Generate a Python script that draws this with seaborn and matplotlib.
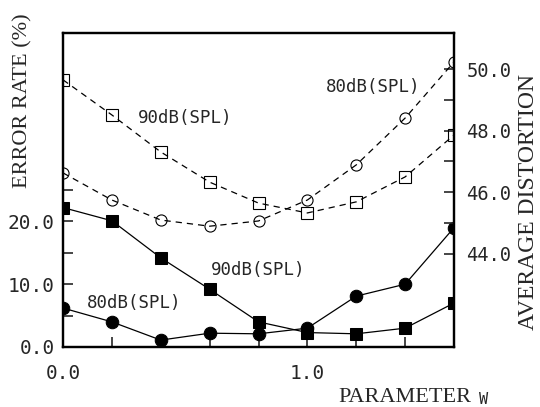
import numpy as np
import pandas as pd
import matplotlib
matplotlib.use("Agg")
import matplotlib.pyplot as plt
import seaborn as sns

# ---- data ----
w = [0.0, 0.2, 0.4, 0.6, 0.8, 1.0, 1.2, 1.4, 1.6]
err_90 = [22.2, 20.1, 14.2, 9.2, 4.0, 2.3, 2.1, 3.0, 7.0]
err_80 = [6.2, 4.0, 1.1, 2.2, 2.1, 3.0, 8.1, 10.0, 19.0]
dist_90 = [49.65, 48.51, 47.31, 46.33, 45.65, 45.33, 45.69, 46.5, 47.86]
dist_80 = [46.63, 45.75, 45.1, 44.9, 45.07, 45.75, 46.89, 48.41, 50.23]

left_major = [0, 10, 20]
left_minor = [5, 15, 25]
right_major = [44, 46, 48, 50]
right_minor = [45, 47, 49]
x_major = [0.0, 1.0]
x_minor = [0.2, 0.4, 0.6, 0.8, 1.2, 1.4, 1.6]

df = pd.DataFrame({"w": w, "err90": err_90, "err80": err_80,
                   "dist90": dist_90, "dist80": dist_80})

sns.set_style("ticks")
mono = "DejaVu Sans Mono"
serif = "Liberation Serif"

fig = plt.figure(figsize=(5.4, 4.07), dpi=100)
ax = fig.add_axes([63/540, 1-347/407, (454-63)/540, (347-33)/407])
ax2 = ax.twinx()

# solid error-rate lines (left axis)
sns.lineplot(data=df, x="w", y="err90", ax=ax, color="black", lw=0.9,
             marker="s", markersize=9, markeredgecolor="black", markerfacecolor="black")
sns.lineplot(data=df, x="w", y="err80", ax=ax, color="black", lw=0.9,
             marker="o", markersize=9, markeredgecolor="black", markerfacecolor="black")

# dashed distortion lines (right axis)
sns.lineplot(data=df, x="w", y="dist90", ax=ax2, color="black", lw=0.9,
             linestyle=(0, (5, 4)), marker="s", markersize=8,
             markerfacecolor="none", markeredgecolor="black", markeredgewidth=0.8)
sns.lineplot(data=df, x="w", y="dist80", ax=ax2, color="black", lw=0.9,
             linestyle=(0, (5, 4)), marker="o", markersize=8,
             markerfacecolor="none", markeredgecolor="black", markeredgewidth=0.8)

ax.set_xlim(0, 1.6)
ax.set_ylim(0, 50)
ax2.set_ylim(40.98, 51.17)

ax.set_xticks(x_major)
ax.set_xticklabels(["0.0", "1.0"], fontfamily=mono, fontsize=14)
ax.set_xticks(x_minor, minor=True)
ax.set_yticks(left_major)
ax.set_yticklabels(["0.0", "10.0", "20.0"], fontfamily=mono, fontsize=14)
ax.set_yticks(left_minor, minor=True)
ax2.set_yticks(right_major)
ax2.set_yticklabels(["44.0", "46.0", "48.0", "50.0"], fontfamily=mono, fontsize=13.5)
ax2.set_yticks(right_minor, minor=True)

ax.tick_params(axis="x", which="both", direction="in", length=7, width=1.2, pad=12)
ax.tick_params(axis="y", which="both", direction="in", length=7, width=1.2, pad=6)
ax2.tick_params(axis="y", which="both", direction="in", length=7, width=1.2, pad=9)
ax.tick_params(top=False)

for a in (ax, ax2):
    for s in a.spines.values():
        s.set_linewidth(1.6)
        s.set_color("black")
    a.set_xlabel("")
    a.set_ylabel("")

# annotations
ax.text(0.5, 36.5, "90dB(SPL)", fontfamily=mono, fontsize=12.5, ha="center", va="center")
ax.text(1.27, 41.4, "80dB(SPL)", fontfamily=mono, fontsize=12.5, ha="center", va="center")
ax.text(0.8, 12.3, "90dB(SPL)", fontfamily=mono, fontsize=12.5, ha="center", va="center")
ax.text(0.29, 7.0, "80dB(SPL)", fontfamily=mono, fontsize=12.5, ha="center", va="center")

# axis titles
fig.text(23/540, 1-101/407, "ERROR RATE (%)", rotation=90, fontfamily=serif,
         fontsize=16, ha="center", va="center")
fig.text(529/540, 1-202/407, "AVERAGE DISTORTION", rotation=90, fontfamily=serif,
         fontsize=17, ha="center", va="center")
fig.text(405/540, 1-398/407, "PARAMETER", fontfamily=serif, fontsize=16,
         ha="center", va="center")
fig.text(484/540, 1-399/407, "W", fontfamily=mono, fontsize=11,
         ha="center", va="center")

fig.savefig("out.png", dpi=100)
